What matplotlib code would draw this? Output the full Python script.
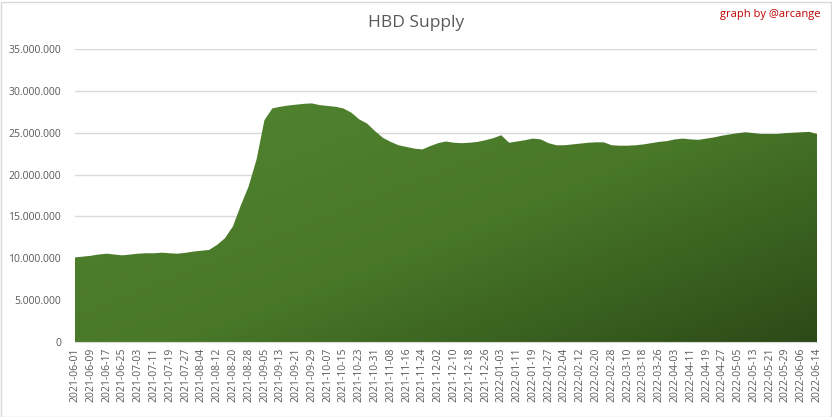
import numpy as np
import matplotlib
matplotlib.use("Agg")
import matplotlib.pyplot as plt
from matplotlib.ticker import FuncFormatter
from matplotlib.colors import LinearSegmentedColormap
from matplotlib.patches import Rectangle

plt.rcParams['font.family'] = ['Open Sans', 'DejaVu Sans']

# Tick labels, one every 8 data points (the data skips 2022-03-01/02)
labels = [
    "2021-06-01", "2021-06-09", "2021-06-17", "2021-06-25", "2021-07-03", "2021-07-11",
    "2021-07-19", "2021-07-27", "2021-08-04", "2021-08-12", "2021-08-20", "2021-08-28",
    "2021-09-05", "2021-09-13", "2021-09-21", "2021-09-29", "2021-10-07", "2021-10-15",
    "2021-10-23", "2021-10-31", "2021-11-08", "2021-11-16", "2021-11-24", "2021-12-02",
    "2021-12-10", "2021-12-18", "2021-12-26", "2022-01-03", "2022-01-11", "2022-01-19",
    "2022-01-27", "2022-02-04", "2022-02-12", "2022-02-20", "2022-02-28", "2022-03-10",
    "2022-03-18", "2022-03-26", "2022-04-03", "2022-04-11", "2022-04-19", "2022-04-27",
    "2022-05-05", "2022-05-13", "2022-05-21", "2022-05-29", "2022-06-06", "2022-06-14",
]
label_step = 8

# HBD supply (millions), read every 4 data points
sample_step = 4
supply_m = [
    10.1, 10.2, 10.3, 10.45, 10.55, 10.45, 10.35, 10.45, 10.55, 10.6,
    10.6, 10.67, 10.6, 10.55, 10.65, 10.8, 10.9, 11.0, 11.6, 12.4,
    13.8, 16.3, 18.6, 21.8, 26.5, 27.9, 28.1, 28.25, 28.35, 28.45,
    28.5, 28.3, 28.2, 28.1, 27.9, 27.4, 26.6, 26.1, 25.2, 24.4,
    23.9, 23.5, 23.3, 23.1, 23.0, 23.4, 23.75, 23.95, 23.8, 23.75,
    23.8, 23.9, 24.1, 24.35, 24.7, 23.8, 23.95, 24.1, 24.3, 24.2,
    23.75, 23.5, 23.5, 23.6, 23.7, 23.8, 23.85, 23.85, 23.5, 23.45,
    23.45, 23.5, 23.6, 23.75, 23.9, 24.0, 24.2, 24.3, 24.2, 24.15,
    24.3, 24.45, 24.65, 24.8, 24.95, 25.05, 24.95, 24.85, 24.85, 24.85,
    24.95, 25.0, 25.05, 25.1, 24.85,
]

x = np.arange(len(supply_m)) * sample_step
y = np.array(supply_m) * 1e6
xmax = (len(labels) - 1) * label_step

fig = plt.figure(figsize=(8.32, 4.17), dpi=100)
ax = fig.add_axes([75 / 832, 1 - 342 / 417, 742 / 832, 293 / 417])

# gradient area: draw gradient image, clip it to the filled polygon
poly = ax.fill_between(x, 0, y, color='none', lw=0)
cmap = LinearSegmentedColormap.from_list('g', ['#538531', '#487828', '#2c4a18'])
gx, gy = np.meshgrid(np.linspace(0, 1, 300), np.linspace(0, 1, 300))
grad = (gx + gy) / 2
grad = grad ** 1.2
img = ax.imshow(grad, cmap=cmap, extent=[0, xmax, 0, 35e6], origin='upper',
                aspect='auto', zorder=2)
img.set_clip_path(poly.get_paths()[0], transform=ax.transData)

ax.set_xlim(0, xmax)
ax.set_ylim(0, 35e6)
ax.set_yticks(np.arange(0, 35e6 + 1, 5e6))
ax.yaxis.set_major_formatter(FuncFormatter(lambda v, p: f"{int(v):,}".replace(",", ".")))
ax.set_xticks(np.arange(len(labels)) * label_step)
ax.set_xticklabels(labels, rotation=90)
ax.grid(axis='y', color='#d9d9d9', lw=1)
ax.set_axisbelow(True)
for s in ['top', 'right', 'left']:
    ax.spines[s].set_visible(False)
ax.spines['bottom'].set_color('#d9d9d9')
ax.tick_params(axis='both', length=0, labelsize=7.5, colors='#595959')
ax.tick_params(axis='x', pad=4)
ax.tick_params(axis='y', pad=10)

fig.text(0.5, 1 - 23 / 417, "HBD Supply", ha='center', va='center',
         fontsize=12.5, color='#595959')
fig.text(821 / 832, 1 - 15 / 417, "graph by @arcange", ha='right', va='center',
         fontsize=8, color='#c00000')

fig.patches.append(Rectangle((0.5 / 832, 0.5 / 417), 1 - 2 / 832, 1 - 2 / 417,
                             transform=fig.transFigure, fill=False,
                             edgecolor='#d9d9d9', lw=1))

fig.savefig("out.png", dpi=100, facecolor='white')
